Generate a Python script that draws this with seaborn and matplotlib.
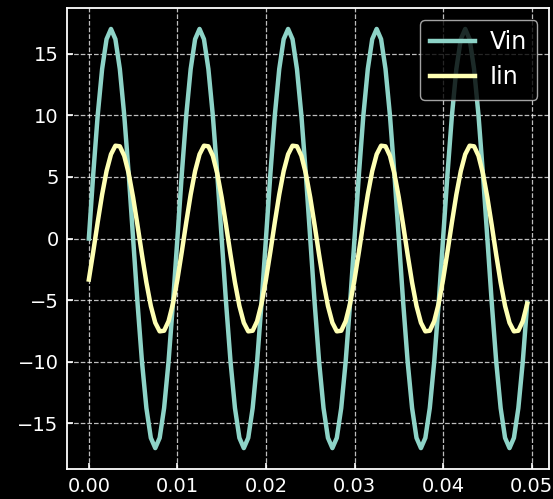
import matplotlib
matplotlib.use("Agg")
import matplotlib.pyplot as plt
import seaborn as sns
import pandas as pd

# sample times (s)
time_s = [
    0.0000, 0.0005, 0.0010, 0.0015, 0.0020, 0.0025, 0.0030, 0.0035, 0.0040, 0.0045,
    0.0050, 0.0055, 0.0060, 0.0065, 0.0070, 0.0075, 0.0080, 0.0085, 0.0090, 0.0095,
    0.0100, 0.0105, 0.0110, 0.0115, 0.0120, 0.0125, 0.0130, 0.0135, 0.0140, 0.0145,
    0.0150, 0.0155, 0.0160, 0.0165, 0.0170, 0.0175, 0.0180, 0.0185, 0.0190, 0.0195,
    0.0200, 0.0205, 0.0210, 0.0215, 0.0220, 0.0225, 0.0230, 0.0235, 0.0240, 0.0245,
    0.0250, 0.0255, 0.0260, 0.0265, 0.0270, 0.0275, 0.0280, 0.0285, 0.0290, 0.0295,
    0.0300, 0.0305, 0.0310, 0.0315, 0.0320, 0.0325, 0.0330, 0.0335, 0.0340, 0.0345,
    0.0350, 0.0355, 0.0360, 0.0365, 0.0370, 0.0375, 0.0380, 0.0385, 0.0390, 0.0395,
    0.0400, 0.0405, 0.0410, 0.0415, 0.0420, 0.0425, 0.0430, 0.0435, 0.0440, 0.0445,
    0.0450, 0.0455, 0.0460, 0.0465, 0.0470, 0.0475, 0.0480, 0.0485, 0.0490, 0.0495,
]

vin = [
    0.00, 5.25, 9.99, 13.75, 16.17, 17.00, 16.17, 13.75, 9.99, 5.25,
    0.00, -5.25, -9.99, -13.75, -16.17, -17.00, -16.17, -13.75, -9.99, -5.25,
    0.00, 5.25, 9.99, 13.75, 16.17, 17.00, 16.17, 13.75, 9.99, 5.25,
    0.00, -5.25, -9.99, -13.75, -16.17, -17.00, -16.17, -13.75, -9.99, -5.25,
    0.00, 5.25, 9.99, 13.75, 16.17, 17.00, 16.17, 13.75, 9.99, 5.25,
    0.00, -5.25, -9.99, -13.75, -16.17, -17.00, -16.17, -13.75, -9.99, -5.25,
    0.00, 5.25, 9.99, 13.75, 16.17, 17.00, 16.17, 13.75, 9.99, 5.25,
    0.00, -5.25, -9.99, -13.75, -16.17, -17.00, -16.17, -13.75, -9.99, -5.25,
    0.00, 5.25, 9.99, 13.75, 16.17, 17.00, 16.17, 13.75, 9.99, 5.25,
    0.00, -5.25, -9.99, -13.75, -16.17, -17.00, -16.17, -13.75, -9.99, -5.25,
]

iin = [
    -3.33, -1.06, 1.32, 3.57, 5.47, 6.83, 7.53, 7.48, 6.71, 5.28,
    3.33, 1.06, -1.32, -3.57, -5.47, -6.83, -7.53, -7.48, -6.71, -5.28,
    -3.33, -1.06, 1.32, 3.57, 5.47, 6.83, 7.53, 7.48, 6.71, 5.28,
    3.33, 1.06, -1.32, -3.57, -5.47, -6.83, -7.53, -7.48, -6.71, -5.28,
    -3.33, -1.06, 1.32, 3.57, 5.47, 6.83, 7.53, 7.48, 6.71, 5.28,
    3.33, 1.06, -1.32, -3.57, -5.47, -6.83, -7.53, -7.48, -6.71, -5.28,
    -3.33, -1.06, 1.32, 3.57, 5.47, 6.83, 7.53, 7.48, 6.71, 5.28,
    3.33, 1.06, -1.32, -3.57, -5.47, -6.83, -7.53, -7.48, -6.71, -5.28,
    -3.33, -1.06, 1.32, 3.57, 5.47, 6.83, 7.53, 7.48, 6.71, 5.28,
    3.33, 1.06, -1.32, -3.57, -5.47, -6.83, -7.53, -7.48, -6.71, -5.28,
]

series_names = ["Vin", "Iin"]
series_colors = ["#8dd3c7", "#feffb3"]
x_ticks = [0.00, 0.01, 0.02, 0.03, 0.04, 0.05]
y_ticks = [-15, -10, -5, 0, 5, 10, 15]

plt.style.use("dark_background")
plt.rcParams.update({
    "font.family": ["DejaVu Sans"],
    "xtick.direction": "in",
    "ytick.direction": "in",
    "xtick.labelsize": 14,
    "ytick.labelsize": 14,
    "legend.fontsize": 17,
})

df = pd.DataFrame({"t": time_s * 2,
                   "value": vin + iin,
                   "series": ["Vin"] * len(vin) + ["Iin"] * len(iin)})

fig = plt.figure(figsize=(5.53, 4.99), dpi=100)
ax = fig.add_axes([0.121, 0.060, 0.872, 0.924])

sns.lineplot(data=df, x="t", y="value", hue="series", hue_order=series_names,
             palette=series_colors, linewidth=3.2, ax=ax, legend=True)

ax.set_xticks(x_ticks)
ax.set_yticks(y_ticks)
ax.set_xlabel("")
ax.set_ylabel("")
ax.grid(True, linestyle="--", color="white", alpha=0.75, linewidth=0.9)
ax.tick_params(axis="both", pad=6, length=4, width=1.2, color="white")
for sp in ax.spines.values():
    sp.set_color("white")
    sp.set_linewidth(1.3)

leg = ax.legend(loc="upper right", framealpha=0.8, handlelength=1.9,
                handletextpad=0.6, labelspacing=0.45, borderpad=0.45)
for line in leg.get_lines():
    line.set_linewidth(3.2)

fig.savefig("out.png", dpi=100, facecolor="black")
